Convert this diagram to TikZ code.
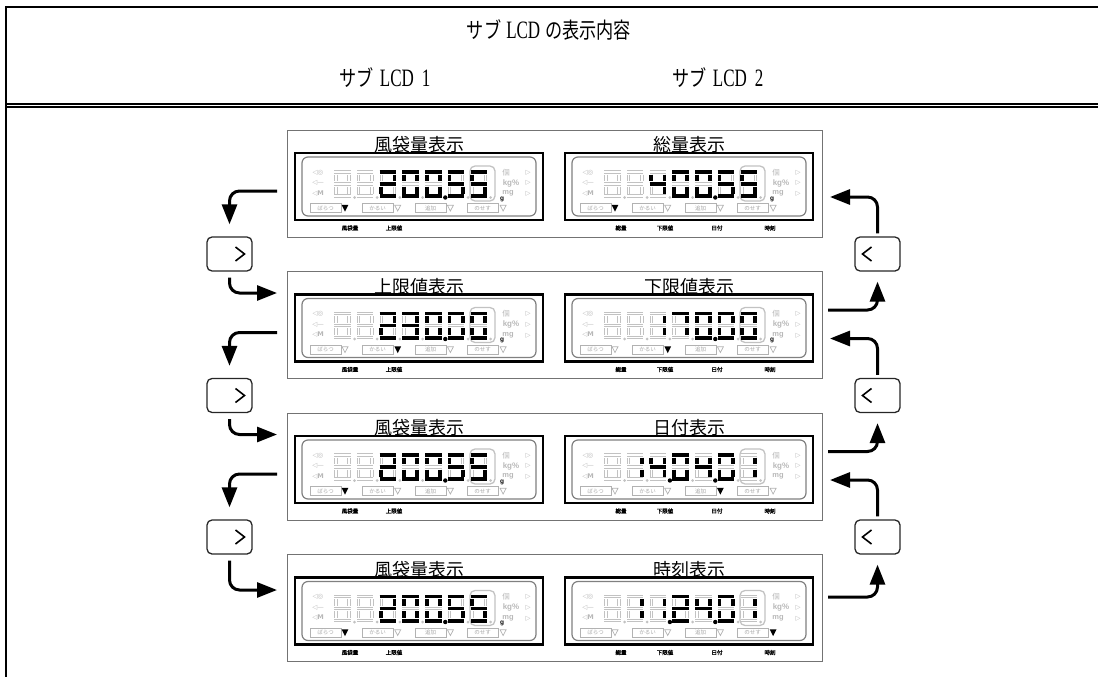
\documentclass[tikz,border=0pt]{standalone}
\usepackage{fontspec}
\setmainfont{Liberation Serif}
\newfontfamily\cjk{Noto Sans CJK JP}
\newfontfamily\cjkb{Noto Sans CJK JP}[FakeBold=1.5]
\newfontfamily\dvs{DejaVu Sans}
\newfontfamily\lsans{Liberation Sans}
\usetikzlibrary{arrows.meta,calc}

\newcommand\hj[1]{\scalebox{0.78}[1]{\fontsize{22}{24}\selectfont\cjk #1}}
\newcommand\hl[1]{\scalebox{0.68}[1]{\fontsize{25}{25}\selectfont #1}}

% seven segment paths (local, digit 17 x 28)
\def\sga{(0.3,1.9) -- (16.7,1.9)}
\def\sgd{(0.3,26.1) -- (16.7,26.1)}
\def\sgg{(0.3,14) -- (16.7,14)}
\def\sgf{(1.9,4.5) -- (1.9,11.4)}
\def\sge{(1.9,16.6) -- (1.9,23.5)}
\def\sgb{(15.1,4.5) -- (15.1,11.4)}
\def\sgc{(15.1,16.6) -- (15.1,23.5)}
\expandafter\def\csname dig0\endcsname{a,b,c,d,e,f}
\expandafter\def\csname dig1\endcsname{b,c}
\expandafter\def\csname dig2\endcsname{a,b,g,e,d}
\expandafter\def\csname dig3\endcsname{a,b,g,c,d}
\expandafter\def\csname dig4\endcsname{f,g,b,c}
\expandafter\def\csname dig5\endcsname{a,f,g,c,d}
\expandafter\def\csname dig7\endcsname{a,b,c}

\tikzset{
  frameline/.style={line width=2pt},
  panelbox/.style={draw=black!55, line width=0.9pt, minimum width=535pt, minimum height=107pt, inner sep=0pt},
  ptitle/.style={font=\cjk\fontsize{18}{20}\selectfont, inner sep=0pt},
  hdr/.style={font=\fontsize{20}{22}\selectfont, inner sep=0pt},
  lcdframe/.style={draw=black, line width=2.2pt},
  lcdinner/.style={draw=black!50, line width=1.2pt, rounded corners=6pt},
  digseg/.style={line width=3.8pt, black},
  ghostout/.style={line width=3.6pt, black!24},
  ghostin/.style={line width=1.6pt, white},
  icon/.style={font=\dvs\fontsize{6.5}{6.5}\selectfont, text=black!28, inner sep=0pt},
  sublab/.style={font=\cjkb\fontsize{5.5}{6}\selectfont, inner sep=0pt},
  indlab/.style={font=\cjk\fontsize{5.5}{6}\selectfont, text=black!35, inner sep=0pt},
  btn/.style={draw=black!85, line width=1.3pt, rounded corners=5pt, minimum width=45pt, minimum height=34pt, inner sep=0pt},
  chev/.style={line width=1.6pt, line join=miter},
  flow/.style={line width=3pt, rounded corners=10pt, -{Triangle[length=20pt,width=15pt]}},
}

% #1 x0, #2 y0, #3 pos/digit list, #4 dot positions, #5 active triangle, #6 g flag
\newcommand\lcdunit[6]{%
\begin{scope}[shift={(#1,#2)}]
  \draw[lcdframe] (0,0) rectangle (248,67);
  \draw[lcdinner] (7,4) rectangle (241,63);
  \node[icon] at (23,19.5) {◁◎};
  \node[icon] at (23,30) {◁—};
  \node[icon] at (23,40.5) {◁\textbf{M}};
  \foreach \p in {1,...,7}{%
    \pgfmathsetmacro\px{39+22.7*(\p-1)}%
    \begin{scope}[shift={(\px,17)}]
      \foreach \s in {a,b,c,d,e,f,g}{\draw[ghostout] \csname sg\s\endcsname; \draw[ghostin] \csname sg\s\endcsname;}
    \end{scope}
    \fill[black!24] (\px+20.5,44.5) circle (1.5);
  }
  \draw[black!24, line width=1.3pt, rounded corners=5pt] (175,13) rectangle (200,48);
  \node[icon, font=\cjk\fontsize{7.5}{7.5}\selectfont] at (211,19.5) {個};
  \node[icon, font=\lsans\bfseries\fontsize{8}{8}\selectfont] at (216,30) {kg\%};
  \node[icon, font=\lsans\bfseries\fontsize{7.5}{7.5}\selectfont] at (213,40.5) {mg};
  \node[icon] at (233,19.5) {▷};
  \node[icon] at (233,30) {▷};
  \node[icon] at (233,41) {▷};
  \foreach \p/\dgt in {#3}{%
    \pgfmathsetmacro\px{39+22.7*(\p-1)}%
    \edef\segs{\csname dig\dgt\endcsname}%
    \begin{scope}[shift={(\px,17)}]
      \foreach \s in \segs {\draw[digseg] \csname sg\s\endcsname;}
    \end{scope}}
  \foreach \p in {#4}{\pgfmathsetmacro\px{39+22.7*(\p-1)}\fill (\px+20.5,44.5) circle (2.2);}
  \foreach \bx/\lab [count=\i] in {15/ばらつ,67/かるい,120/追加,172/のせす}{%
    \draw[black!30, line width=0.7pt] (\bx,50.5) rectangle ++(31,9);
    \node[indlab] at (\bx+15.5,55) {\lab};
    \pgfmathsetmacro\tx{50+52.7*(\i-1)}%
    \ifnum\i=#5
      \fill (\tx-3.4,51.8) -- (\tx+3.4,51.8) -- (\tx,58.6) -- cycle;
    \else
      \draw[black!30, line width=0.7pt] (\tx-3,52.3) -- (\tx+3,52.3) -- (\tx,58) -- cycle;
    \fi
  }
  \ifnum#6=1 \node[inner sep=0pt, font=\lsans\bfseries\fontsize{6.5}{6.5}\selectfont] at (207,46) {g};\fi
\end{scope}}

\newcommand\leftlabels[1]{%
  \node[sublab] at (350,#1) {風袋量};
  \node[sublab] at (394,#1) {上限値};}
\newcommand\rightlabels[1]{%
  \node[sublab] at (621,#1) {総量};
  \node[sublab] at (665,#1) {下限値};
  \node[sublab] at (717,#1) {日付};
  \node[sublab] at (770,#1) {時刻};}

\begin{document}
\begin{tikzpicture}[x=1pt,y=-1pt]
\useasboundingbox (0,0) rectangle (1098,677);

% table frame
\draw[frameline] (6,677) -- (6,6.8) -- (1098,6.8);
\draw[line width=1.7pt] (6,103.8) -- (1098,103.8);
\draw[line width=1.7pt] (6,107) -- (1098,107);

\node[hdr] (title) at (549,30) {\hj{サブ}\hspace{5pt}\hl{LCD}\hspace{5pt}\hj{の表示内容}};
\node[hdr] (sub1) at (385,78) {\hj{サブ}\hspace{6pt}\hl{LCD}\hspace{8pt}\hl{1}};
\node[hdr] (sub2) at (718,78) {\hj{サブ}\hspace{6pt}\hl{LCD}\hspace{8pt}\hl{2}};

% row 1
\node[panelbox] (row1) at (554.5,183.5) {};
\node[ptitle] (t1l) at (419,145) {風袋量表示};
\node[ptitle] (t1r) at (689,145) {総量表示};
\lcdunit{295}{153}{3/2,4/0,5/0,6/5,7/5}{5}{1}{1}
\lcdunit{565}{153}{3/4,4/0,5/0,6/5,7/5}{5}{1}{1}
\leftlabels{228}\rightlabels{228}

% row 2
\node[panelbox] (row2) at (554.5,325) {};
\node[ptitle] (t2l) at (419,286.5) {上限値表示};
\node[ptitle] (t2r) at (689,286.5) {下限値表示};
\lcdunit{295}{294.5}{3/2,4/3,5/0,6/0,7/0}{5}{2}{1}
\lcdunit{565}{294.5}{3/1,4/7,5/0,6/0,7/0}{5}{2}{1}
\leftlabels{369.5}\rightlabels{369.5}

% row 3
\node[panelbox] (row3) at (554.5,466.5) {};
\node[ptitle] (t3l) at (419,428) {風袋量表示};
\node[ptitle] (t3r) at (689,428) {日付表示};
\lcdunit{295}{436}{3/2,4/0,5/0,6/5,7/5}{5}{1}{1}
\lcdunit{565}{436}{2/1,3/4,4/0,5/4,6/0,7/1}{3,5}{3}{0}
\leftlabels{511}\rightlabels{511}

% row 4
\node[panelbox] (row4) at (554.5,608) {};
\node[ptitle] (t4l) at (419,569.5) {風袋量表示};
\node[ptitle] (t4r) at (689,569.5) {時刻表示};
\lcdunit{295}{577.5}{3/2,4/0,5/0,6/5,7/5}{5}{1}{1}
\lcdunit{565}{577.5}{2/1,3/1,4/2,5/4,6/0,7/1}{3,5}{4}{0}
\leftlabels{652.5}\rightlabels{652.5}

% buttons
\foreach \k/\yy in {1/254,2/395.5,3/537}{
  \node[btn] (bL\k) at (229.5,\yy) {};
  \draw[chev] ([xshift=6pt,yshift=7pt]bL\k.center) -- ([xshift=15pt]bL\k.center) -- ([xshift=6pt,yshift=-7pt]bL\k.center);
  \node[btn] (bR\k) at (877.5,\yy) {};
  \draw[chev] ([xshift=-6pt,yshift=7pt]bR\k.center) -- ([xshift=-15pt]bR\k.center) -- ([xshift=-6pt,yshift=-7pt]bR\k.center);
}

% arrow end points
\coordinate (sL1) at (277,191);
\coordinate (sL2) at (277,332.5);
\coordinate (sL3) at (277,474);
\coordinate (eL2) at (277,293);
\coordinate (eL3) at (277,434.5);
\coordinate (eL4) at (277,590);
\coordinate (eR1) at (830,197);
\coordinate (eR2) at (830,338.5);
\coordinate (eR3) at (830,480);
\coordinate (sR2) at (828,310);
\coordinate (sR3) at (828,451.5);
\coordinate (sR4) at (828,597);

\draw[flow] (sL1) -| ([yshift=12pt]bL1.north);
\draw[flow] (sL2) -| ([yshift=12pt]bL2.north);
\draw[flow] (sL3) -| ([yshift=12pt]bL3.north);
\draw[flow] ([yshift=-6pt]bL1.south) |- (eL2);
\draw[flow] ([yshift=-6pt]bL2.south) |- (eL3);
\draw[flow] ([yshift=-6pt]bL3.south) |- (eL4);

\draw[flow] ([yshift=3pt]bR1.north) |- (eR1);
\draw[flow] ([yshift=3pt]bR2.north) |- (eR2);
\draw[flow] ([yshift=3pt]bR3.north) |- (eR3);
\draw[flow] (sR2) -| ([yshift=-10pt]bR1.south);
\draw[flow] (sR3) -| ([yshift=-10pt]bR2.south);
\draw[flow] (sR4) -| ([yshift=-10pt]bR3.south);
\end{tikzpicture}
\end{document}
